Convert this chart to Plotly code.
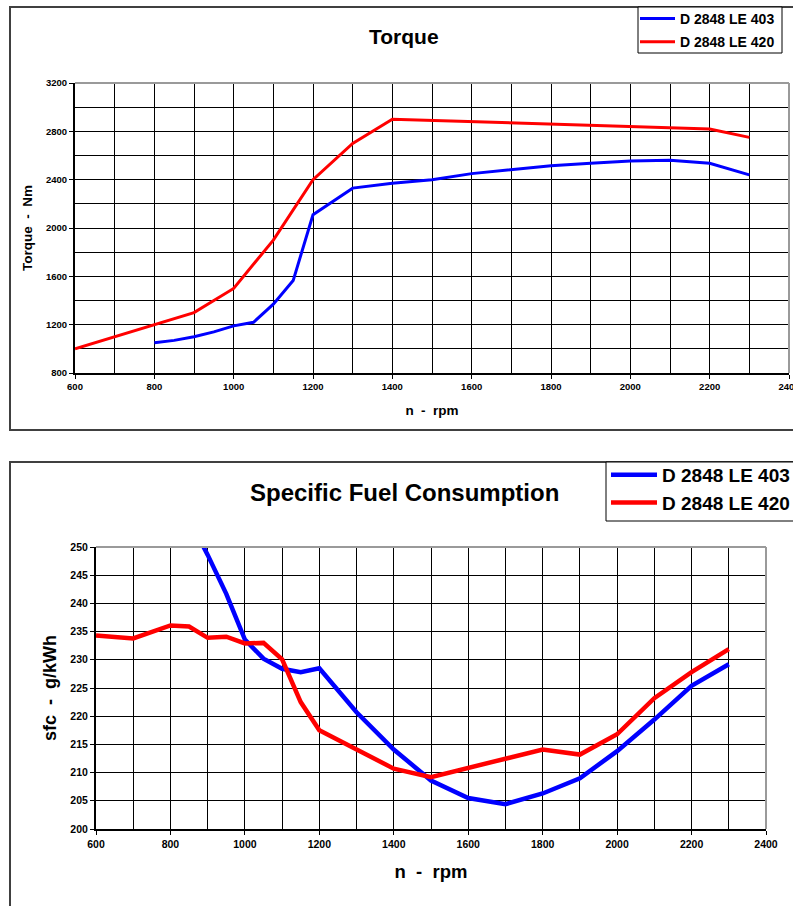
import plotly.graph_objects as go

# Engine series
engine_403 = "D 2848 LE 403"
engine_420 = "D 2848 LE 420"

# Torque curves (rpm, Nm)
torque_rpm_403 = [800, 850, 900, 950, 1000, 1050, 1100, 1150, 1200, 1300, 1400,
                  1500, 1600, 1700, 1800, 1900, 2000, 2100, 2200, 2300]
torque_403 = [1050, 1070, 1100, 1140, 1190, 1220, 1370, 1565, 2110, 2330, 2370,
              2400, 2450, 2485, 2515, 2535, 2555, 2560, 2535, 2440]
torque_rpm_420 = [600, 700, 800, 900, 1000, 1050, 1100, 1200, 1300, 1400,
                  1600, 1800, 2000, 2200, 2300]
torque_420 = [1000, 1100, 1200, 1300, 1500, 1700, 1900, 2400, 2700, 2900,
              2880, 2860, 2840, 2820, 2750]

# Specific fuel consumption curves (rpm, g/kWh)
sfc_rpm_403 = [850, 900, 950, 1000, 1050, 1100, 1150, 1200, 1300, 1400, 1500,
               1600, 1700, 1800, 1900, 2000, 2100, 2200, 2300]
sfc_403 = [255.0, 248.6, 241.7, 233.6, 230.2, 228.4, 227.8, 228.5, 220.7, 214.1, 208.6,
           205.5, 204.4, 206.3, 209.0, 213.8, 219.4, 225.4, 229.2]
sfc_rpm_420 = [600, 700, 800, 850, 900, 950, 1000, 1050, 1100, 1150, 1200, 1300,
               1400, 1500, 1600, 1700, 1800, 1900, 2000, 2100, 2200, 2300]
sfc_420 = [234.3, 233.8, 236.1, 235.9, 233.9, 234.1, 232.9, 233.0, 230.1, 222.5, 217.5, 214.1,
           210.7, 209.2, 210.9, 212.5, 214.1, 213.2, 216.8, 223.2, 227.8, 231.9]

# Axis labels and titles
torque_title = "Torque"
sfc_title = "Specific Fuel Consumption"
rpm_label = "n  -  rpm"
torque_label = "Torque  -  Nm"
sfc_label = "sfc  -  g/kWh"

W, H = 793, 906
FONT = "Liberation Sans, Arial, sans-serif"


def px(x):
    return x / W


def py(y):
    return 1 - y / H


fig = go.Figure()

fig.add_trace(go.Scatter(x=torque_rpm_403, y=torque_403, name=engine_403, mode="lines",
                         line=dict(color="#0000ff", width=3), xaxis="x", yaxis="y",
                         legend="legend", legendgroup="t403"))
fig.add_trace(go.Scatter(x=torque_rpm_420, y=torque_420, name=engine_420, mode="lines",
                         line=dict(color="#ff0000", width=3), xaxis="x", yaxis="y",
                         legend="legend", legendgroup="t420"))
fig.add_trace(go.Scatter(x=sfc_rpm_403, y=sfc_403, name=engine_403, mode="lines",
                         line=dict(color="#0000ff", width=4.5), xaxis="x2", yaxis="y2",
                         legend="legend2"))
fig.add_trace(go.Scatter(x=sfc_rpm_420, y=sfc_420, name=engine_420, mode="lines",
                         line=dict(color="#ff0000", width=4.5), xaxis="x2", yaxis="y2",
                         legend="legend2"))


def axis_style(tick_size, title_text, title_size, standoff, **kw):
    d = dict(
        showgrid=True, gridcolor="#000000", gridwidth=1,
        showline=True, linecolor="#000000", linewidth=2,
        ticks="outside", ticklen=4, tickcolor="#000000", tickwidth=1,
        zeroline=False, automargin=False, ticklabeloverflow="allow",
        tickfont=dict(family=FONT, size=tick_size, color="#000000", weight="bold"),
        title=dict(text=title_text, standoff=standoff,
                   font=dict(family=FONT, size=title_size, color="#000000", weight="bold")),
        fixedrange=True,
    )
    d.update(kw)
    return d


top_x = [75, 789]
top_y = [83, 373]
bot_x = [96, 766]
bot_y = [547, 829]

fig.update_layout(
    width=W, height=H,
    margin=dict(l=0, r=0, t=0, b=0, autoexpand=False),
    paper_bgcolor="white", plot_bgcolor="white",
    font=dict(family=FONT, color="#000000"),
    xaxis=axis_style(9.5, rpm_label, 13.5, 14,
                     domain=[px(top_x[0]), px(top_x[1])], anchor="y",
                     range=[600, 2400], tick0=600, dtick=200,
                     minor=dict(dtick=100, showgrid=True, gridcolor="#000000", gridwidth=1)),
    yaxis=axis_style(9.5, torque_label, 13.5, 10,
                     domain=[py(top_y[1]), py(top_y[0])], anchor="x",
                     range=[800, 3200], tick0=800, dtick=400,
                     minor=dict(dtick=200, showgrid=True, gridcolor="#000000", gridwidth=1)),
    xaxis2=axis_style(10.5, rpm_label, 18.5, 16,
                      domain=[px(bot_x[0]), px(bot_x[1])], anchor="y2",
                      range=[600, 2400], tick0=600, dtick=200,
                      minor=dict(dtick=100, showgrid=True, gridcolor="#000000", gridwidth=1)),
    yaxis2=axis_style(10.5, sfc_label, 18, 9,
                      domain=[py(bot_y[1]), py(bot_y[0])], anchor="x2",
                      range=[200, 250], tick0=200, dtick=5),
    legend=dict(x=px(635), y=py(3), xanchor="left", yanchor="top",
                bgcolor="rgba(0,0,0,0)", borderwidth=0,
                font=dict(family=FONT, size=14, color="#000000", weight="bold"),
                itemwidth=35, tracegroupgap=2),
    legend2=dict(x=px(606), y=py(456), xanchor="left", yanchor="top",
                 bgcolor="rgba(0,0,0,0)", borderwidth=0,
                 font=dict(family=FONT, size=19, color="#000000", weight="bold"),
                 itemwidth=46, tracegroupgap=0),
)

shapes = []
# Chart area frames
for (y0, y1) in [(7, 430), (462, 930)]:
    shapes.append(dict(type="rect", xref="paper", yref="paper",
                       x0=px(10), x1=px(820), y0=py(y1), y1=py(y0),
                       line=dict(color="#404040", width=2), layer="below"))
# Legend frames
for (x0, y0, x1, y1) in [(638, 7, 782, 53), (606, 462, 820, 521)]:
    shapes.append(dict(type="rect", xref="paper", yref="paper",
                       x0=px(x0), x1=px(x1), y0=py(y1), y1=py(y0),
                       line=dict(color="#000000", width=1), fillcolor="white",
                       layer="below"))
# Grey top/right plot borders
for xa, ya in [("x", "y"), ("x2", "y2")]:
    shapes.append(dict(type="line", xref=f"{xa} domain", yref=f"{ya} domain",
                       x0=0, x1=1, y0=1, y1=1, line=dict(color="#9a9a9a", width=2)))
    shapes.append(dict(type="line", xref=f"{xa} domain", yref=f"{ya} domain",
                       x0=1, x1=1, y0=0, y1=1, line=dict(color="#9a9a9a", width=2)))
fig.update_layout(shapes=shapes)

fig.add_annotation(text=torque_title, x=px(404), y=py(37), xref="paper", yref="paper",
                   showarrow=False, xanchor="center", yanchor="middle",
                   font=dict(family=FONT, size=21, color="#000000", weight="bold"))
fig.add_annotation(text=sfc_title, x=px(404), y=py(492), xref="paper", yref="paper",
                   showarrow=False, xanchor="center", yanchor="middle",
                   font=dict(family=FONT, size=24, color="#000000", weight="bold"))

fig.write_html("out.html", config=dict(displayModeBar=False))
